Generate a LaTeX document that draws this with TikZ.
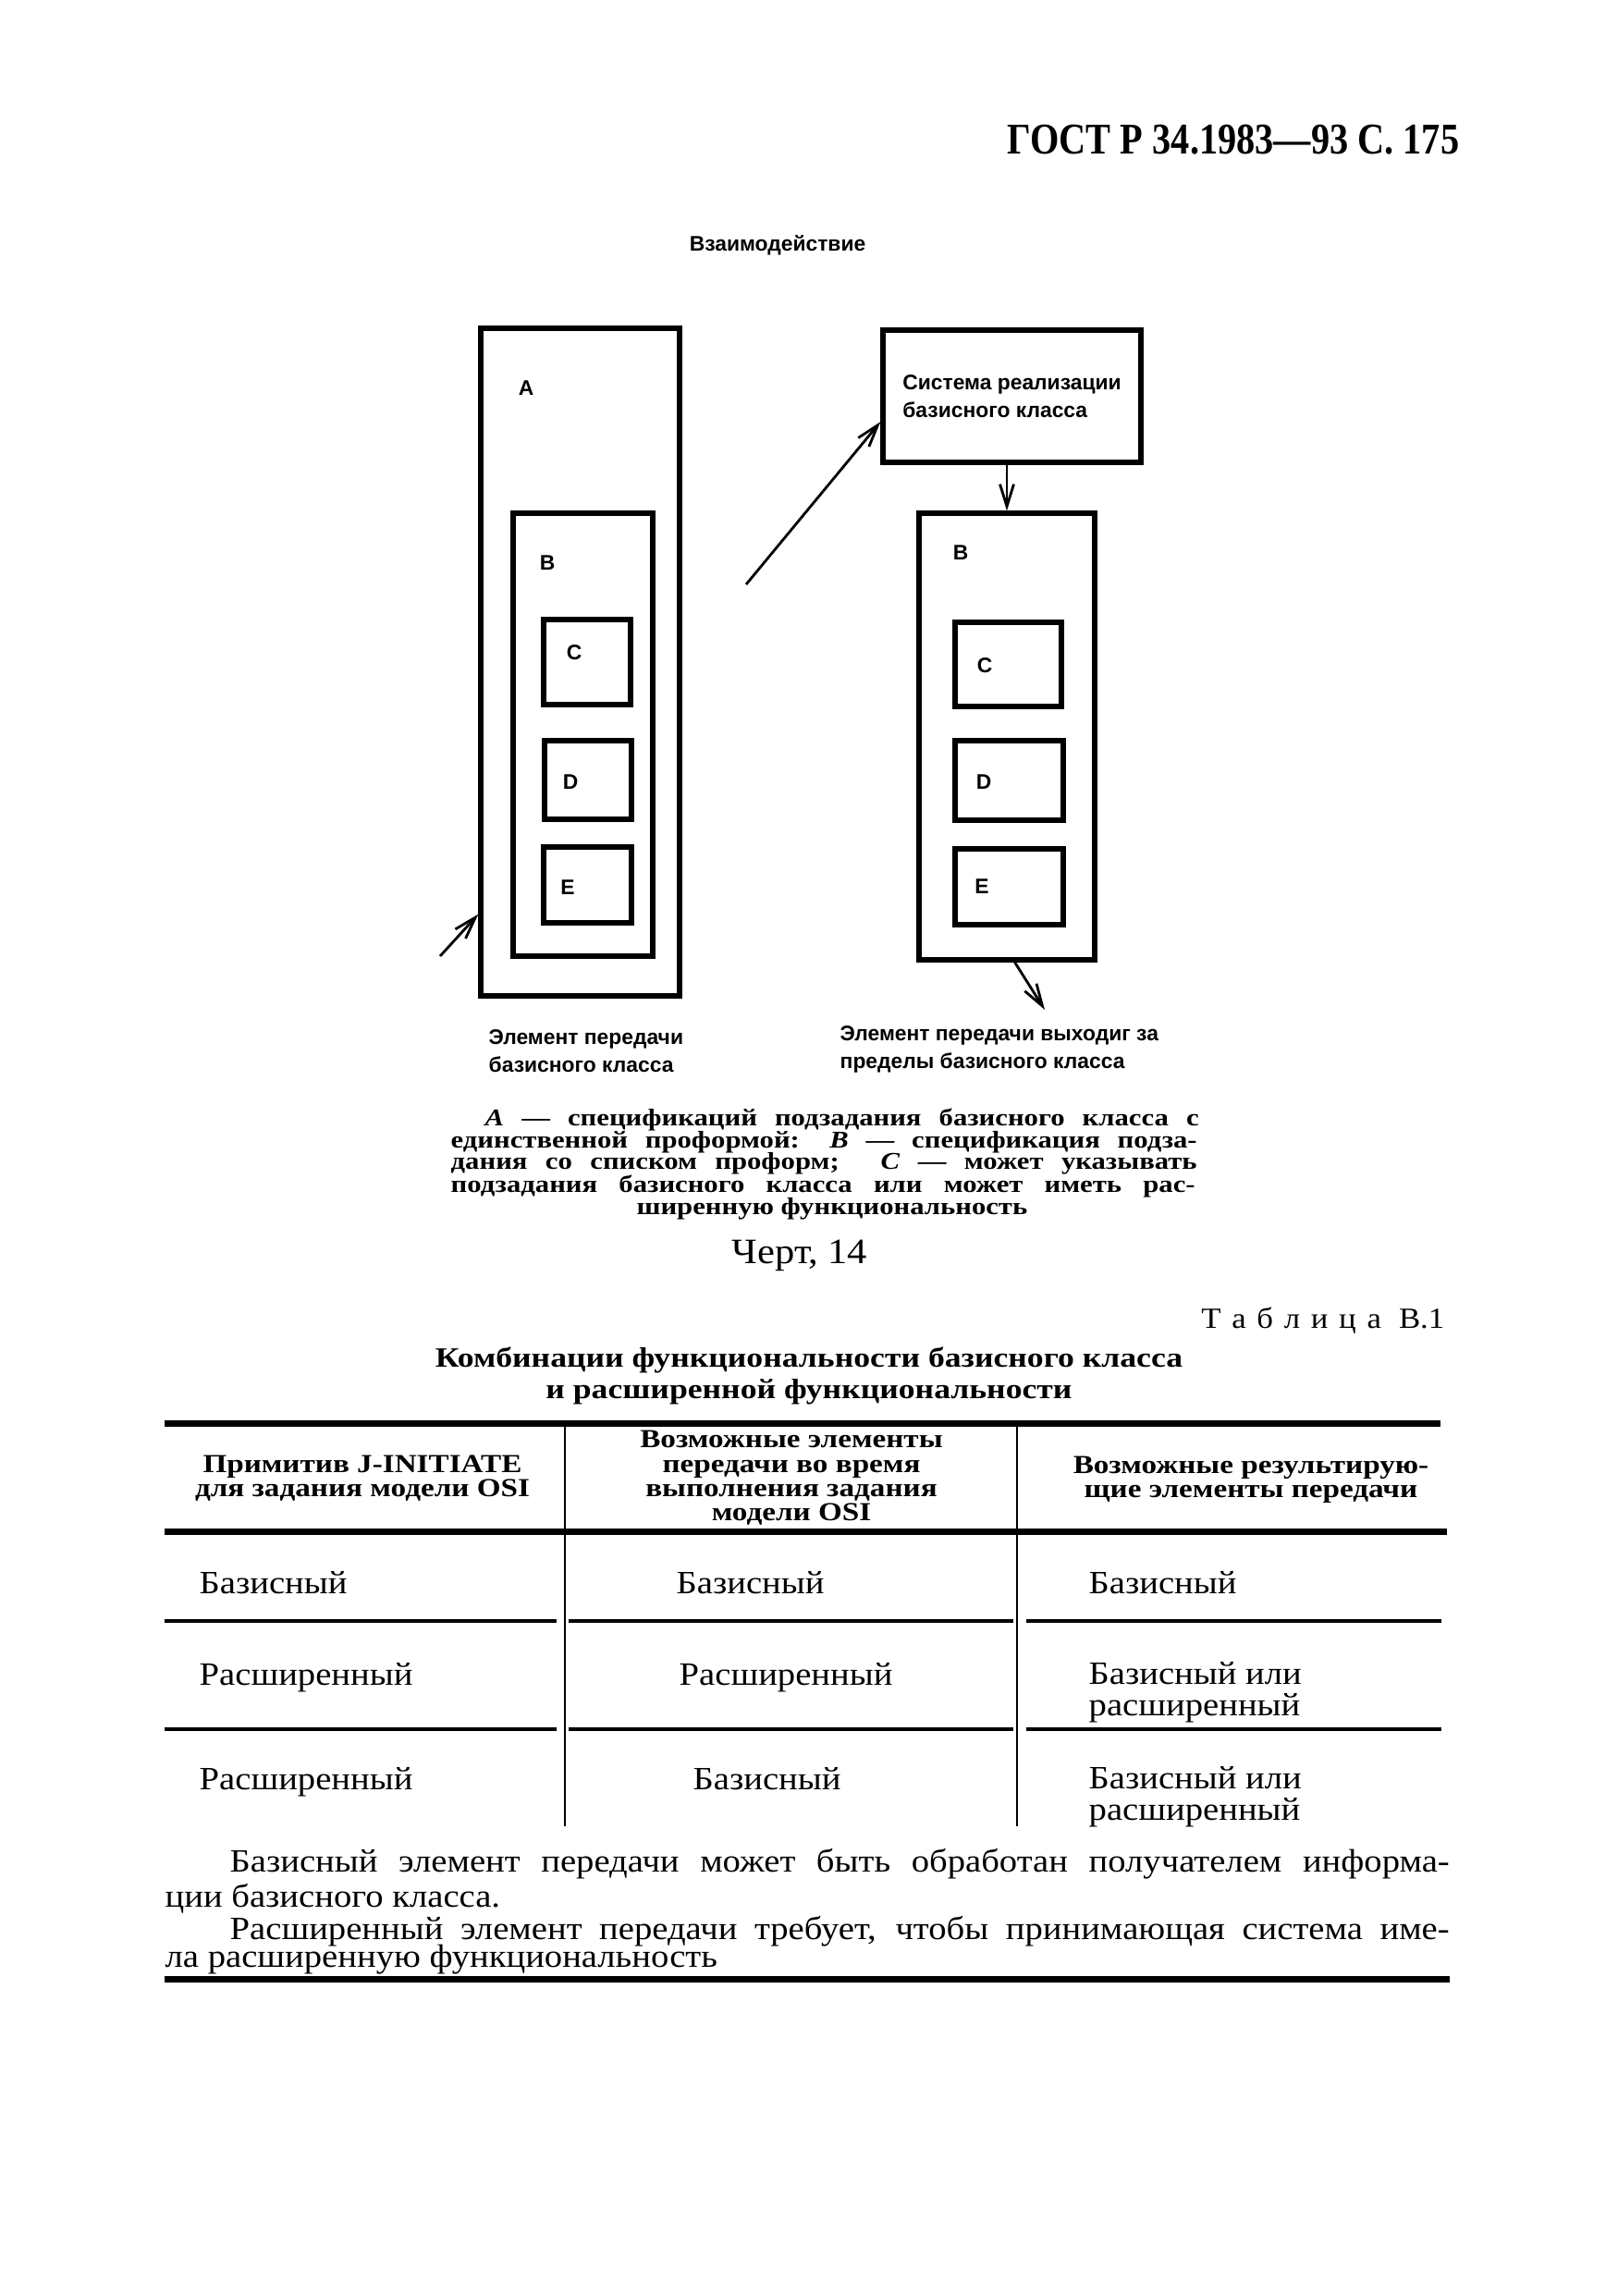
\documentclass[tikz,border=0pt]{standalone}
\usepackage{fontspec}
\setmainfont{Liberation Serif}
\newfontfamily\gostfont[FakeStretch=0.85]{Liberation Serif}
\newfontfamily\widefont[FakeStretch=1.18]{Liberation Serif}
\newfontfamily\bodyfont[FakeStretch=1.1]{Liberation Serif}
\newfontfamily\labelfont{Liberation Sans}
\usetikzlibrary{arrows.meta}

\begin{document}
\begin{tikzpicture}[
    box/.style={draw, line width=1.5pt, inner sep=0pt},
    letter/.style={font=\labelfont\bfseries\fontsize{6.5}{8}\selectfont, inner sep=0pt},
    lbl/.style={font=\labelfont\bfseries\fontsize{6.5}{8.5}\selectfont, align=left, inner sep=0pt},
    arr/.style={line width=0.8pt, -{Straight Barb[length=2.4mm, width=1.5mm]}},
    capt/.style={font=\widefont\bfseries\fontsize{7.4}{7}\selectfont, inner sep=0pt, anchor=base west},
    ttl/.style={font=\widefont\bfseries\fontsize{8.6}{9}\selectfont, inner sep=0pt, anchor=base},
    head/.style={font=\widefont\bfseries\fontsize{8}{7.4}\selectfont, align=center, inner sep=0pt, anchor=base},
    cell/.style={font=\bodyfont\fontsize{10}{9.4}\selectfont, align=left, inner sep=0pt, anchor=base west},
    body/.style={font=\bodyfont\fontsize{10}{12}\selectfont, inner sep=0pt, anchor=base west},
    toprule/.style={line width=2pt},
    rowrule/.style={line width=1.2pt},
    colrule/.style={line width=0.8pt}
]
\fill[white] (0,0) rectangle (17.49,-24.83);
\useasboundingbox (0,0) rectangle (17.49,-24.83);

\node[font=\gostfont\bfseries\fontsize{13.5}{16}\selectfont, anchor=base east, inner sep=0pt] (gost) at (15.79,-1.67) {ГОСТ Р 34.1983—93 С. 175};
\node[letter, anchor=base] (title) at (8.41,-2.72) {Взаимодействие};

% left part
\node[box, minimum width=2.15cm, minimum height=7.22cm] (A) at (6.275,-7.16) {};
\node[box, minimum width=1.51cm, minimum height=4.79cm] (Bl) at (6.305,-7.945) {};
\node[box, minimum width=0.94cm, minimum height=0.92cm] (Cl) at (6.35,-7.16) {};
\node[box, minimum width=0.94cm, minimum height=0.85cm] (Dl) at (6.36,-8.435) {};
\node[box, minimum width=0.95cm, minimum height=0.82cm] (El) at (6.355,-9.57) {};

\node[letter] (labA) at (5.69,-4.20) {A};
\node[letter] (labBl) at (5.92,-6.09) {B};
\node[letter] (labCl) at (6.21,-7.06) {C};
\node[letter] (labDl) at (6.17,-8.46) {D};
\node[letter] (labEl) at (6.14,-9.60) {E};

% right part
\node[box, lbl, minimum width=2.79cm, minimum height=1.43cm] (sys) at (10.945,-4.285) {Система реализации\\базисного класса};
\node[box, minimum width=1.90cm, minimum height=4.83cm] (Br) at (10.89,-7.965) {};
\node[box, minimum width=1.15cm, minimum height=0.91cm] (Cr) at (10.905,-7.185) {};
\node[box, minimum width=1.17cm, minimum height=0.86cm] (Dr) at (10.915,-8.44) {};
\node[box, minimum width=1.17cm, minimum height=0.82cm] (Er) at (10.915,-9.59) {};

\node[letter] (labBr) at (10.39,-5.98) {B};
\node[letter] (labCr) at (10.65,-7.20) {C};
\node[letter] (labDr) at (10.64,-8.46) {D};
\node[letter] (labEr) at (10.62,-9.59) {E};

% arrows
\coordinate (inA) at (4.76,-10.34);
\coordinate (inSys) at (8.07,-6.32);
\coordinate (outB) at (11.30,-10.92);
\draw[arr] (inA) -- (A.248);
\draw[arr] (inSys) -- (sys.191);
\draw[arr] (Br.north |- sys.south) -- (Br.north);
\draw[arr] (Br.272) -- (outB);

\node[lbl, anchor=west] (capL) at (5.28,-11.37) {Элемент передачи\\базисного класса};
\node[lbl, anchor=west] (capR) at (9.08,-11.35) {Элемент передачи выходиг за\\пределы базисного класса};

% caption
\node[capt] (cap1) at (5.24,-12.17) {\makebox[7.72cm][s]{\textit{A} — спецификаций подзадания базисного класса с}};
\node[capt] (cap2) at (4.87,-12.41) {\makebox[8.07cm][s]{единственной проформой: \textit{B} — спецификация подза-}};
\node[capt] (cap3) at (4.87,-12.64) {\makebox[8.07cm][s]{дания со списком проформ; \ \textit{C} — может указывать}};
\node[capt] (cap4) at (4.87,-12.89) {\makebox[8.05cm][s]{подзадания базисного класса или может иметь рас-}};
\node[capt, anchor=base] (cap5) at (9.00,-13.13) {ширенную функциональность};
\node[font=\bodyfont\fontsize{11}{12}\selectfont, anchor=base, inner sep=0pt] (chert) at (8.65,-13.66) {Черт, 14};

% table
\node[font=\bodyfont\fontsize{9}{11}\selectfont, anchor=base east, inner sep=0pt] (tabno) at (15.63,-14.36) {\makebox[2.63cm][s]{Т а б л и ц а\hspace{0.6em}В.1}};
\node[ttl] (tt1) at (8.75,-14.78) {Комбинации функциональности базисного класса};
\node[ttl] (tt2) at (8.75,-15.12) {и расширенной функциональности};

\draw[toprule] (1.78,-15.39) -- (15.58,-15.39);
\draw[toprule] (1.78,-16.56) -- (15.65,-16.56);
\foreach \y in {-17.53,-18.70} {
    \draw[rowrule] (1.78,\y) -- (6.02,\y);
    \draw[rowrule] (6.15,\y) -- (10.96,\y);
    \draw[rowrule] (11.10,\y) -- (15.59,\y);
}
\foreach \x in {6.11,11.00}
    \draw[colrule] (\x,-15.42) -- (\x,-19.75);

\node[head] (h1) at (3.92,-16.18) {Примитив J-INITIATE\\для задания модели OSI};
\node[head] (h2) at (8.56,-16.44) {Возможные элементы\\передачи во время\\выполнения задания\\модели OSI};
\node[head] (h3) at (13.53,-16.19) {Возможные результирую-\\щие элементы передачи};

\node[cell] (r1a) at (2.15,-17.23) {Базисный};
\node[cell] (r1b) at (7.31,-17.23) {Базисный};
\node[cell] (r1c) at (11.77,-17.23) {Базисный};
\node[cell] (r2a) at (2.15,-18.22) {Расширенный};
\node[cell] (r2b) at (7.34,-18.22) {Расширенный};
\node[cell] (r2c) at (11.77,-18.55) {Базисный или\\расширенный};
\node[cell] (r3a) at (2.15,-19.35) {Расширенный};
\node[cell] (r3b) at (7.49,-19.35) {Базисный};
\node[cell] (r3c) at (11.77,-19.68) {Базисный или\\расширенный};

% text below
\node[body] (p1) at (2.48,-20.24) {\makebox[13.19cm][s]{Базисный элемент передачи может быть обработан получателем информа-}};
\node[body] (p2) at (1.78,-20.62) {ции базисного класса.};
\node[body] (p3) at (2.48,-20.97) {\makebox[13.19cm][s]{Расширенный элемент передачи требует, чтобы принимающая система име-}};
\node[body] (p4) at (1.78,-21.27) {ла расширенную функциональность};
\draw[toprule] (1.78,-21.40) -- (15.68,-21.40);

\end{tikzpicture}
\end{document}
